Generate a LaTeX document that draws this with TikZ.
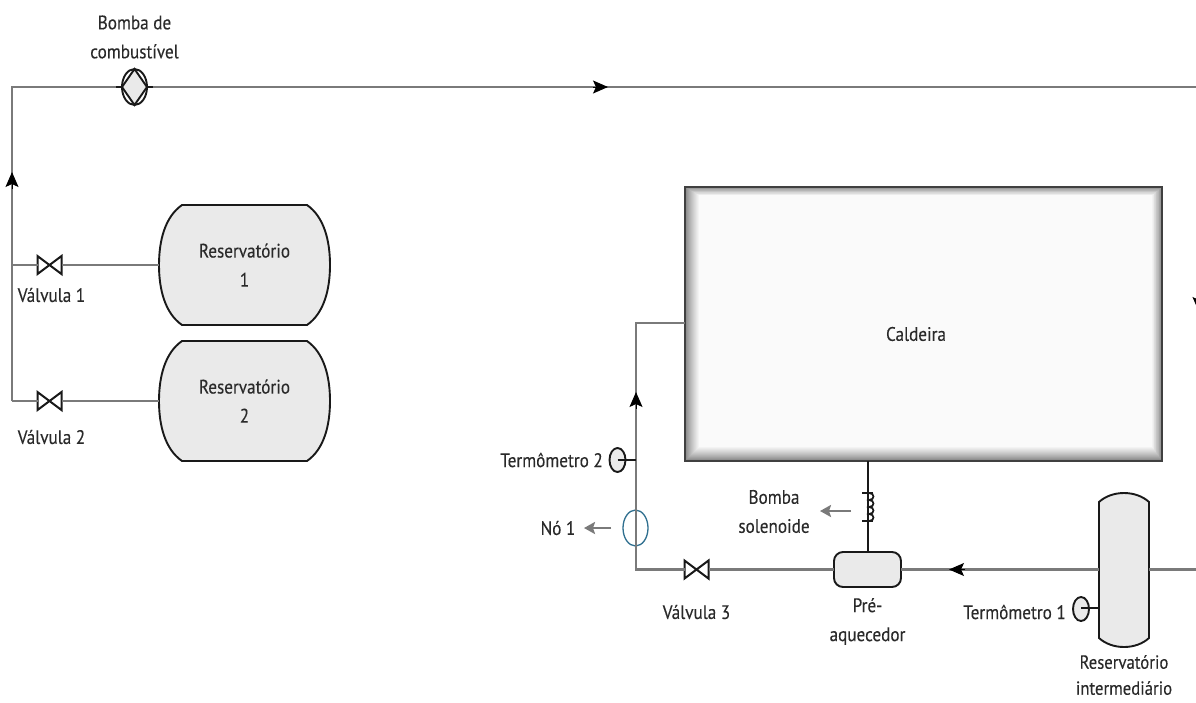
\documentclass[tikz,border=0pt]{standalone}
\usepackage{fontspec}
\setmainfont[FakeStretch=0.88,FakeBold=0.15]{PT Sans}
\usetikzlibrary{arrows.meta,shapes.geometric,calc}
\definecolor{pipe}{HTML}{7A7A7A}
\definecolor{vessel}{HTML}{EAEAEA}
\definecolor{txt}{HTML}{2A2A2A}
\definecolor{teal1}{HTML}{2F6F8F}
\definecolor{shadetone}{HTML}{F6F6F6}
\tikzset{
  pipeline/.style={draw=pipe,line width=2.7pt},
  blackline/.style={draw=black!90,line width=2.5pt},
  vesselshape/.style={draw=black!90,fill=vessel,line width=1.9pt},
  label/.style={text=txt,font=\fontsize{19.5}{29}\selectfont,align=center,inner sep=0pt},
  anchorbox/.style={minimum width=#1,inner sep=0pt,outer sep=0pt},
  valvebox/.style={minimum width=24pt,minimum height=18pt,inner sep=0pt,outer sep=0pt},
  valvestroke/.style={draw=black!90,line width=2pt,line join=miter},
  gauge/.style={ellipse,draw=black!90,fill=vessel,line width=1.9pt,minimum width=16pt,minimum height=24pt,inner sep=0pt,outer sep=0pt},
  flowtip/.style={-{Stealth[length=15pt,width=13pt,inset=3pt]},black,line width=1pt},
  pointer/.style={-{Stealth[length=11pt,width=12pt,inset=2pt]},draw=pipe,color=pipe,line width=2.6pt},
}
\newcommand{\tankH}[7]{% name cx cy halfw halfh inset text
  \fill[vesselshape] ({#2-#4+#6},{#3-#5}) -- ({#2+#4-#6},{#3-#5})
    .. controls ({#2+#4-0.25*#6},{#3-0.8*#5}) and ({#2+#4},{#3-0.4*#5}) .. ({#2+#4},{#3})
    .. controls ({#2+#4},{#3+0.4*#5}) and ({#2+#4-0.25*#6},{#3+0.8*#5}) .. ({#2+#4-#6},{#3+#5})
    -- ({#2-#4+#6},{#3+#5})
    .. controls ({#2-#4+0.25*#6},{#3+0.8*#5}) and ({#2-#4},{#3+0.4*#5}) .. ({#2-#4},{#3})
    .. controls ({#2-#4},{#3-0.4*#5}) and ({#2-#4+0.25*#6},{#3-0.8*#5}) .. cycle;
  \node[label,anchorbox={2*#4*1pt},minimum height={2*#5*1pt}] (#1) at (#2,#3) {#7};
}
\newcommand{\valveat}[3]{%
  \node[valvebox] (#1) at (#2,#3) {};
  \draw[valvestroke] (#1.north west) -- (#1.south east) -- (#1.north east) -- (#1.south west) -- cycle;
}
\begin{document}
\begin{tikzpicture}[x=1pt,y=-1pt]
\useasboundingbox (0,0) rectangle (1196,702);
\clip (0,0) rectangle (1196,702);
\fill[white] (0,0) rectangle (1196,702);

% tanks
\tankH{res1}{244.5}{265}{85.5}{60}{23}{Reservatório\\1}
\tankH{res2}{244.5}{401}{85.5}{60}{23}{Reservatório\\2}

% caldeira with inner shadow
\fill[black!50] (685,187) rectangle (1162,461);
\foreach \i in {1,2,...,14}{
  \pgfmathsetmacro{\mixv}{100*(\i/14)^0.8}
  \fill[color=shadetone!\mixv!black!50!white] ({685+\i},{187+0.6*\i}) rectangle ({1162-0.7*\i},{461-\i});
}
\node[draw=black!75,line width=1.7pt,minimum width=477pt,minimum height=274pt,inner sep=0pt,outer sep=0pt] (caldeira) at (923.5,324) {};
\node[label] (caldeiralabel) at (916,334) {Caldeira};

% valves
\valveat{v1}{49.5}{265}
\valveat{v2}{49.5}{401}
\valveat{v3}{696.5}{569.5}

% pump
\node[ellipse,draw=black!90,fill=white,line width=1.9pt,minimum width=25pt,minimum height=36pt,inner sep=0pt,outer sep=0pt] (pump) at (134.5,87) {};
\fill[draw=black!90,fill=vessel,line width=1.9pt] (pump.west) -- (pump.north) -- (pump.east) -- (pump.south) -- cycle;

% pre-heater
\draw[vesselshape,rounded corners=9pt] (834,552) rectangle (901,587);
\node[anchorbox=67pt,minimum height=35pt] (pre) at (867.5,569.5) {};

% intermediate vessel
\fill[vesselshape] (1099,502) .. controls (1112,490) and (1136,490) .. (1149,502)
  -- (1149,638) .. controls (1136,650) and (1112,650) .. (1099,638) -- cycle;
\node[anchorbox=50pt,minimum height=154pt] (inter) at (1124,569.5) {};

% gauges and node marker
\node[gauge] (t2) at (617.5,460) {};
\node[gauge] (t1) at (1081,609) {};
\node[ellipse,draw=teal1,line width=1.3pt,minimum width=25pt,minimum height=36pt,inner sep=0pt] (no1) at (635.5,528) {};

% coordinates
\coordinate (topleft) at (12,87);
\coordinate (topright) at (1196,87);
\coordinate (j1) at (12,265);
\coordinate (j2) at (12,401);
\coordinate (stubL) at (116,87);
\coordinate (stubR) at (153,87);
\coordinate (c3) at (636,569.5);
\coordinate (c2) at (636,323);
\coordinate (t2j) at (636,460);
\coordinate (outR) at (1196,569.5);
\coordinate (t1c) at (1081,608);
\coordinate (t2c) at (617.5,460);

% pipes
\draw[pipeline,line join=miter] (j2) -- (topleft) -- (stubL);
\draw[pipeline] (stubR) -- (topright);
\draw[pipeline] (j1) -- (v1.west);
\draw[pipeline] (v1.east) -- (res1.west);
\draw[pipeline] (j2) -- (v2.west);
\draw[pipeline] (v2.east) -- (res2.west);
\draw[pipeline,line join=miter] (v3.west) -- (c3) -- (c2) -- (685,323);
\draw[pipeline] (v3.east) -- (pre.west);
\draw[pipeline] (pre.east) -- (inter.west);
\draw[pipeline] (inter.east) -- (outR);

% pump stubs
\draw[blackline,line width=1.9pt] (stubL) -- (pump.west);
\draw[blackline,line width=1.9pt] (pump.east) -- (stubR);

% solenoid
\draw[blackline] (868,461) -- (868,552);
\draw[black!90,line width=1.8pt] (862,493) -- (873,493) (862,521) -- (873,521);
\draw[black!90,line width=1.7pt] (869,493) .. controls (875,493) and (875,500) .. (869,500)
  .. controls (875,500) and (875,507) .. (869,507)
  .. controls (875,507) and (875,514) .. (869,514)
  .. controls (875,514) and (875,521) .. (869,521);

% thermometer stems
\draw[blackline,line width=1.9pt] (t2c) -- (t2j);
\draw[blackline,line width=1.9pt] (t1c) -- (1099,608);

% flow arrows
\draw[flowtip] (12,189) -- (12,172);
\draw[flowtip] (593,87) -- (608,87);
\draw[flowtip] (636,409) -- (636,392);
\draw[flowtip] (965,569.5) -- (949,569.5);
\draw[flowtip] (1199,296) -- (1199,312);

% pointers
\draw[pointer] (611,528) -- (584,528);
\draw[pointer] (851,511) -- (820,511);

% labels
\node[label] (lbomba) at (134.5,37) {Bomba de\\combustível};
\node[label] (lv1) at (51.5,295) {Válvula 1};
\node[label] (lv2) at (51.5,437) {Válvula 2};
\node[label] (lv3) at (696.5,612) {Válvula 3};
\node[label,anchor=east] (lt2) at (603,460) {Termômetro 2};
\node[label,anchor=east] (lt1) at (1066,612) {Termômetro 1};
\node[label] (lno) at (558,528) {Nó 1};
\node[label] (lsol) at (774,511.5) {Bomba\\solenoide};
\node[label] (lpre) at (867.5,621.5) {Pré-\\aquecedor};
\node[label,font=\fontsize{19}{26}\selectfont] (lint) at (1124,675) {Reservatório\\intermediário};
\end{tikzpicture}
\end{document}
